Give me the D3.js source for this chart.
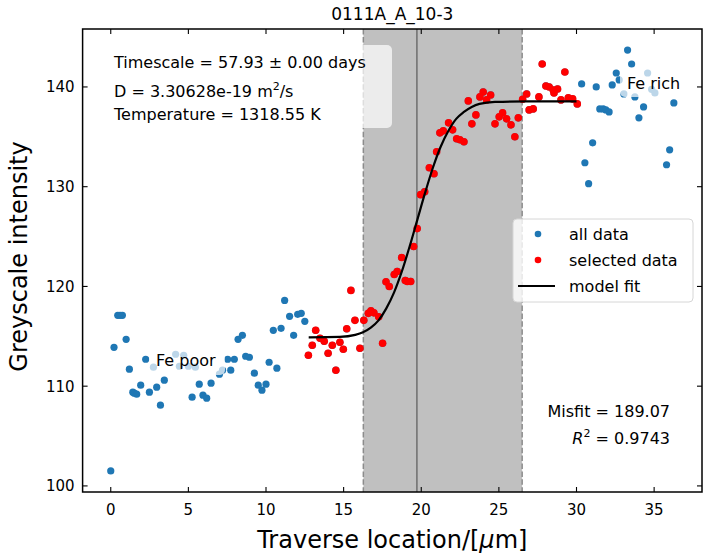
<!DOCTYPE html>
<html>
<head>
<meta charset="utf-8">
<script src="https://cdn.jsdelivr.net/npm/d3@7"></script>
<style>
  body { margin: 0; background: #fff; }
  text { font-family: "DejaVu Sans", sans-serif; }
</style>
</head>
<body>
<div class="canvas"></div>
<script>
// all data, left part (Fe poor side)
const leftX = [0, 0.21, 0.45, 0.6, 0.75, 0.99, 1.2, 1.42, 1.52, 1.67, 1.93, 2.25, 2.49, 2.75, 2.96, 3.2, 3.45,
  4.18, 4.42, 4.7, 5.0, 5.24, 5.45, 5.7, 5.94, 6.18, 6.46, 7.0, 7.2, 7.53, 7.73, 7.96, 8.2, 8.48, 8.69, 8.93,
  9.25, 9.5, 9.74, 10.0, 10.2, 10.47, 10.7, 10.97, 11.2, 11.52, 11.78, 12.04, 12.27, 12.5];
const leftY = [101.5, 113.9, 117.1, 117.1, 117.1, 114.7, 111.7, 109.4, 109.3, 109.2, 110.1, 112.7, 109.4, 111.9, 109.9, 108.1, 110.6,
  113.2, 112.0, 113.1, 112.0, 108.9, 111.9, 110.2, 109.1, 108.8, 110.3, 111.2, 111.6, 112.7, 111.6, 112.7, 114.7, 115.1, 113.0, 112.9,
  111.3, 110.1, 109.6, 110.2, 112.4, 115.6, 111.8, 115.8, 118.6, 117.0, 115.1, 117.2, 117.3, 116.5];

// selected data
const selX = [12.73, 12.98, 13.2, 13.48, 13.75, 14.0, 14.27, 14.5, 14.76, 14.98, 15.2, 15.47, 15.73, 16.05, 16.3, 16.59, 16.76, 16.95,
  17.26, 17.51, 17.73, 17.94, 18.26, 18.45, 18.74, 18.97, 19.1, 19.32, 19.51, 19.74, 19.96, 20.22, 20.52, 20.82, 20.99, 21.2, 21.42,
  21.76, 22.02, 22.28, 22.49, 22.75, 23.03, 23.26, 23.52, 23.78, 23.99, 24.21, 24.47, 24.75, 25.02, 25.24, 25.5, 25.78, 26.03, 26.25,
  26.53, 26.79, 26.95, 27.21, 27.58, 27.79, 28.03, 28.24, 28.5, 28.55, 28.78, 29.0, 29.25, 29.47, 29.75, 30.05];
const selY = [113.1, 114.1, 115.6, 114.8, 114.5, 113.3, 114.1, 111.6, 114.4, 113.7, 115.75, 119.6, 116.6, 113.8, 116.6, 117.3, 117.55, 117.35,
  116.95, 114.3, 120.46, 120.0, 121.2, 121.5, 122.9, 120.6, 120.5, 120.5, 124.0, 125.8, 129.2, 129.5, 131.9, 131.3, 133.5, 135.4, 135.6,
  136.4, 135.7, 134.8, 134.7, 134.5, 138.6, 136.3, 137.2, 139.0, 139.5, 138.7, 139.2, 136.3, 137.0, 137.4, 136.8, 136.2, 135.0, 136.9,
  138.76, 139.3, 137.7, 137.8, 139.0, 142.3, 140.1, 140.0, 139.7, 139.4, 139.8, 138.7, 141.5, 138.9, 138.8, 138.3];

// all data, right part (Fe rich side)
const rightX = [30.33, 30.54, 30.78, 31.04, 31.27, 31.5, 31.72, 31.89, 32.1, 32.3, 32.56, 32.75, 33.05, 33.29, 33.55, 33.76,
  34.02, 34.32, 34.58, 34.84, 35.05, 35.8, 36.0, 36.27];
const rightY = [140.3, 132.4, 130.3, 134.4, 140.0, 137.8, 137.8, 137.7, 137.5, 140.2, 141.4, 140.7, 139.3, 143.7, 142.3, 139.0,
  136.9, 138.0, 141.4, 139.76, 139.4, 132.2, 133.7, 138.4];

// model fit
const fitX = [12.75, 14.75, 15.75, 16.25, 16.75, 17.25, 17.75, 18.25, 18.75, 19.25, 19.75, 20.25, 20.75, 21.25, 21.75,
  22.25, 22.75, 23.25, 23.75, 24.75, 26.75, 30.0];
const fitY = [114.9, 114.94, 115.14, 115.4, 115.87, 116.6, 117.8, 119.4, 121.5, 124.0, 126.7, 129.4, 131.9, 134.0, 135.6,
  136.8, 137.5, 138.0, 138.3, 138.5, 138.55, 138.55];

// diffusion window and centre
const spanX = [16.27, 26.5];
const centreX = 19.72;

const xTicks = [0, 5, 10, 15, 20, 25, 30, 35];
const yTicks = [100, 110, 120, 130, 140];

const W = 706, H = 555;
const margin = {top: 29, right: 4, bottom: 63, left: 82.6};
const graphW = W - margin.left - margin.right;
const graphH = H - margin.top - margin.bottom;

const svg = d3.select('.canvas')
  .append('svg')
    .attr('width', W)
    .attr('height', H);

const allX = leftX.concat(selX, rightX);
const allY = leftY.concat(selY, rightY);
const all = allX.map((x, i) => ({x, y: allY[i]}));
const sel = selX.map((x, i) => ({x, y: selY[i]}));
const fit = fitX.map((x, i) => ({x, y: fitY[i]}));

// matplotlib style 5% padding
const pad = (lo, hi) => [lo - (hi - lo) * 0.05, hi + (hi - lo) * 0.05];
const x = d3.scaleLinear().domain(pad(d3.min(allX), d3.max(allX))).range([0, graphW]);
const y = d3.scaleLinear().domain(pad(d3.min(allY), d3.max(allY))).range([graphH, 0]);

const graph = svg.append('g')
  .attr('transform', `translate(${margin.left},${margin.top})`);

// shaded window
graph.append('rect')
  .attr('x', x(spanX[0]))
  .attr('y', 0)
  .attr('width', x(spanX[1]) - x(spanX[0]))
  .attr('height', graphH)
  .attr('fill', '#c0c0c0');

graph.selectAll('.edge')
  .data(spanX)
  .enter()
  .append('line')
    .attr('x1', d => x(d)).attr('x2', d => x(d))
    .attr('y1', 0).attr('y2', graphH)
    .attr('stroke', '#8c8c8c')
    .attr('stroke-width', 1.5)
    .attr('stroke-dasharray', '5.5,2.4');

graph.append('line')
  .attr('x1', x(centreX)).attr('x2', x(centreX))
  .attr('y1', 0).attr('y2', graphH)
  .attr('stroke', '#6e6e6e')
  .attr('stroke-width', 1.5);

// points
graph.selectAll('.all')
  .data(all)
  .enter()
  .append('circle')
    .attr('cx', d => x(d.x))
    .attr('cy', d => y(d.y))
    .attr('r', 3.6)
    .attr('fill', '#1f77b4');

graph.selectAll('.sel')
  .data(sel)
  .enter()
  .append('circle')
    .attr('cx', d => x(d.x))
    .attr('cy', d => y(d.y))
    .attr('r', 3.8)
    .attr('fill', '#ff0000');

const line = d3.line()
  .x(d => x(d.x))
  .y(d => y(d.y))
  .curve(d3.curveMonotoneX);

graph.append('path')
  .datum(fit)
  .attr('d', line)
  .attr('fill', 'none')
  .attr('stroke', 'black')
  .attr('stroke-width', 2.2);

// frame and inward ticks
const tl = 5;
const ticks = svg.append('g').attr('stroke', 'black').attr('stroke-width', 1.1);
xTicks.forEach(t => {
  const px = margin.left + x(t);
  ticks.append('line').attr('x1', px).attr('x2', px)
    .attr('y1', margin.top + graphH).attr('y2', margin.top + graphH - tl);
  ticks.append('line').attr('x1', px).attr('x2', px)
    .attr('y1', margin.top).attr('y2', margin.top + tl);
});
yTicks.forEach(t => {
  const py = margin.top + y(t);
  ticks.append('line').attr('x1', margin.left).attr('x2', margin.left + tl)
    .attr('y1', py).attr('y2', py);
  ticks.append('line').attr('x1', margin.left + graphW).attr('x2', margin.left + graphW - tl)
    .attr('y1', py).attr('y2', py);
});

svg.append('rect')
  .attr('x', margin.left).attr('y', margin.top)
  .attr('width', graphW).attr('height', graphH)
  .attr('fill', 'none')
  .attr('stroke', 'black')
  .attr('stroke-width', 1.5);

svg.selectAll('.xt')
  .data(xTicks)
  .enter()
  .append('text')
    .attr('x', d => margin.left + x(d))
    .attr('y', margin.top + graphH + 23)
    .attr('text-anchor', 'middle')
    .attr('font-size', 15)
    .text(d => d);

svg.selectAll('.yt')
  .data(yTicks)
  .enter()
  .append('text')
    .attr('x', margin.left - 8)
    .attr('y', d => margin.top + y(d))
    .attr('dy', '0.36em')
    .attr('text-anchor', 'end')
    .attr('font-size', 15)
    .text(d => d);

// title and axis labels
svg.append('text')
  .attr('x', margin.left + graphW / 2)
  .attr('y', 20)
  .attr('text-anchor', 'middle')
  .attr('font-size', 17)
  .text('0111A_A_10-3');

const xl = svg.append('text')
  .attr('x', margin.left + graphW / 2)
  .attr('y', 548)
  .attr('text-anchor', 'middle')
  .attr('font-size', 24);
xl.append('tspan').text('Traverse location/[');
xl.append('tspan').attr('font-style', 'italic').text('μ');
xl.append('tspan').text('m]');

svg.append('text')
  .attr('transform', `translate(27,${margin.top + graphH / 2 - 4}) rotate(-90)`)
  .attr('text-anchor', 'middle')
  .attr('font-size', 24)
  .text('Greyscale intensity');

// annotation boxes (semi transparent white)
const boxes = [
  {x: 107, y: 45, w: 285, h: 83},
  {x: 149, y: 346, w: 76, h: 29},
  {x: 620, y: 68, w: 70, h: 29}
];
svg.selectAll('.box')
  .data(boxes)
  .enter()
  .append('rect')
    .attr('x', d => d.x).attr('y', d => d.y)
    .attr('width', d => d.w).attr('height', d => d.h)
    .attr('rx', 5)
    .attr('fill', 'white')
    .attr('fill-opacity', 0.7);

svg.append('text').attr('x', 114).attr('y', 68).attr('font-size', 16)
  .text('Timescale = 57.93 ± 0.00 days');
const dText = svg.append('text').attr('x', 114).attr('y', 97).attr('font-size', 16);
dText.append('tspan').text('D = 3.30628e-19 m');
dText.append('tspan').attr('font-size', 11).attr('dy', -7).text('2');
dText.append('tspan').attr('dy', 7).text('/s');
svg.append('text').attr('x', 114).attr('y', 120).attr('font-size', 16)
  .text('Temperature = 1318.55 K');

svg.append('text').attr('x', 156).attr('y', 366).attr('font-size', 16).text('Fe poor');
svg.append('text').attr('x', 627).attr('y', 89).attr('font-size', 16).text('Fe rich');

svg.append('text').attr('x', 670).attr('y', 417).attr('text-anchor', 'end').attr('font-size', 16)
  .text('Misfit = 189.07');
const r2 = svg.append('text').attr('x', 670).attr('y', 444).attr('text-anchor', 'end').attr('font-size', 16);
r2.append('tspan').attr('font-style', 'italic').text('R');
r2.append('tspan').attr('font-size', 11).attr('dy', -7).text('2');
r2.append('tspan').attr('dy', 7).text(' = 0.9743');

// legend
const legend = svg.append('g').attr('transform', 'translate(513,219)');
legend.append('rect')
  .attr('width', 180).attr('height', 83)
  .attr('rx', 4)
  .attr('fill', 'white').attr('fill-opacity', 0.8)
  .attr('stroke', '#d6d6d6');
const items = ['all data', 'selected data', 'model fit'];
const itemColors = ['#1f77b4', '#ff0000', 'black'];
items.forEach((name, i) => {
  const cy = 15 + i * 26;
  if (i < 2) {
    legend.append('circle').attr('cx', 25).attr('cy', cy).attr('r', 3.3).attr('fill', itemColors[i]);
  } else {
    legend.append('line').attr('x1', 5).attr('x2', 42).attr('y1', cy).attr('y2', cy)
      .attr('stroke', itemColors[i]).attr('stroke-width', 2.2);
  }
  legend.append('text').attr('x', 56).attr('y', cy).attr('dy', '0.35em')
    .attr('font-size', 16).text(name);
});
</script>
</body>
</html>
